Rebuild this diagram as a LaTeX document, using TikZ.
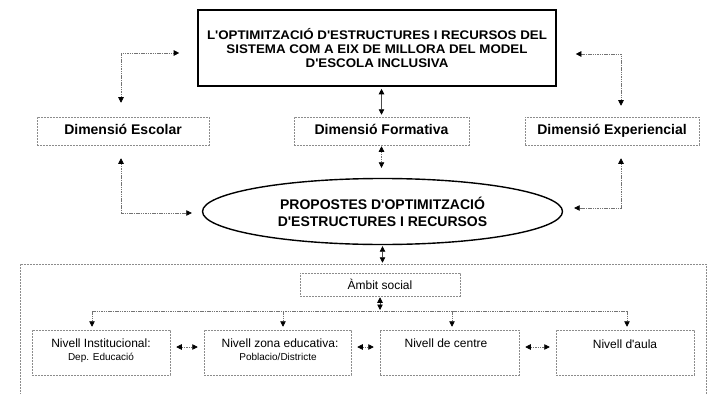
\documentclass[tikz,border=0pt]{standalone}
\usepackage{fontspec}
\setmainfont{Liberation Sans}[Ligatures=TeXOff]
\newfontfamily\widefont{Liberation Sans}[FakeStretch=1.065]
\newcommand{\ap}{\char"0027{}}
\usetikzlibrary{arrows.meta,shapes.geometric}
\begin{document}
\begin{tikzpicture}[x=1pt,y=-1pt,
  tri/.tip={Triangle[width=5.5pt,length=5.5pt,color=black]},
  conn/.style={draw=black!55, line width=0.6pt, dash pattern=on 1.5pt off 0.8pt, {tri}-{tri}},
  solidconn/.style={draw=black!70, line width=0.8pt, {tri}-{tri}},
  dimbox/.style={draw=black!45, line width=0.5pt, dash pattern=on 2pt off 1pt,
    font=\fontsize{14}{16}\selectfont\bfseries, inner sep=0pt, minimum height=28,
    text height=10pt, text depth=2.5pt},
  nivbox/.style={draw=black!45, line width=0.5pt, dash pattern=on 2pt off 1pt,
    minimum height=45, inner sep=0pt},
  nivtxt/.style={font=\fontsize{12}{14}\selectfont, inner sep=0pt, anchor=base},
  smalltxt/.style={font=\fontsize{10}{12}\selectfont, inner sep=0pt, anchor=base},
]
\useasboundingbox (0,0) rectangle (708,393);

% top box
\node[draw=black, line width=1.6pt, minimum width=358, minimum height=76, inner sep=0pt,
  align=center, font=\widefont\fontsize{12.5}{14}\selectfont\bfseries] (top) at (377,48)
  {L\ap OPTIMITZACIÓ D\ap ESTRUCTURES I RECURSOS DEL\\SISTEMA COM A EIX DE MILLORA DEL MODEL\\D\ap ESCOLA INCLUSIVA};

% dimension boxes
\node[dimbox, minimum width=172] (esc) at (123,131) {Dimensió Escolar};
\node[dimbox, minimum width=175] (form) at (381.5,131) {Dimensió Formativa};
\node[dimbox, minimum width=174] (exp) at (612,131) {Dimensió Experiencial};

% ellipse
\node[ellipse, draw=black, line width=1.4pt, minimum width=360, minimum height=66, inner sep=0pt,
  align=center, font=\fontsize{14}{17}\selectfont\bfseries] (ell) at (382.5,211.5)
  {PROPOSTES D\ap OPTIMITZACIÓ\\D\ap ESTRUCTURES I RECURSOS};

% big container (runs past the bottom edge)
\node[draw=black!45, line width=0.5pt, dash pattern=on 2pt off 1pt, minimum width=686,
  minimum height=140, inner sep=0pt] (big) at (363,334) {};

% ambit social
\node[draw=black!45, line width=0.5pt, dash pattern=on 2pt off 1pt, minimum width=160,
  minimum height=23, inner sep=0pt, font=\fontsize{12}{14}\selectfont] (amb) at (380,284.5) {Àmbit social};

% level boxes
\node[nivbox, minimum width=138] (b1) at (101,352.5) {};
\node[nivbox, minimum width=147] (b2) at (277.5,352.5) {};
\node[nivbox, minimum width=139] (b3) at (449.5,352.5) {};
\node[nivbox, minimum width=138] (b4) at (625,352.5) {};

\node[nivtxt] (t1a) at (101,347) {Nivell Institucional:};
\node[smalltxt] (t1b) at (101,360) {Dep. Educació};
\node[nivtxt] (t2a) at (280,347) {Nivell zona educativa:};
\node[smalltxt] (t2b) at (278,360) {Poblacio/Districte};
\node[nivtxt] (t3a) at (446,347) {Nivell de centre};
\node[nivtxt] (t4a) at (625,348) {Nivell d\ap aula};

% connectors top
\coordinate (c1) at (121,53);
\draw[conn, shorten <=14pt, shorten >=18pt] (c1 |- esc.north) -- (c1) -- (top.west |- c1);
\coordinate (c2) at (621,54);
\draw[conn, shorten <=19pt, shorten >=11pt] (top.east |- c2) -- (c2) -- (c2 |- exp.north);
\draw[solidconn, shorten <=2pt, shorten >=2pt] (form.north |- top.south) -- (form.north);
\draw[conn, shorten <=1pt, shorten >=10pt] (form.south) -- (form.south |- ell.north);

% connectors to ellipse
\coordinate (c3) at (121,213);
\draw[conn, shorten <=13pt, shorten >=10pt] (c1 |- esc.south) -- (c3) -- (ell.west |- c3);
\coordinate (c4) at (621,208);
\draw[conn, shorten <=13pt, shorten >=11pt] (c4 |- exp.south) -- (c4) -- (ell.east |- c4);
\draw[solidconn, shorten <=1pt, shorten >=1pt] (ell.south) -- (ell.south |- big.north);

% ambit to levels
\coordinate (h0) at (380,311);
\coordinate (h1) at (92,311);
\coordinate (h2) at (283,311);
\coordinate (h3) at (452,311);
\coordinate (h4) at (627,311);
\draw[solidconn, shorten <=1pt, shorten >=1pt] (amb.south) -- (h0);
\draw[draw=black!55, line width=0.6pt, dash pattern=on 1.5pt off 0.8pt] (h1) -- (h4);
\foreach \h/\b in {h1/b1,h2/b2,h3/b3,h4/b4}
  \draw[draw=black!55, line width=0.6pt, dash pattern=on 1.5pt off 0.8pt, -{tri}, shorten >=3pt] (\h) -- (\h |- \b.north);

% between levels
\draw[conn, shorten <=6pt, shorten >=6pt] ([yshift=5.5pt]b1.east) -- ([yshift=5.5pt]b2.west);
\draw[conn, shorten <=6pt, shorten >=6pt] ([yshift=5.5pt]b2.east) -- ([yshift=5.5pt]b3.west);
\draw[conn, shorten <=6pt, shorten >=6pt] ([yshift=5.5pt]b3.east) -- ([yshift=5.5pt]b4.west);
\end{tikzpicture}
\end{document}
